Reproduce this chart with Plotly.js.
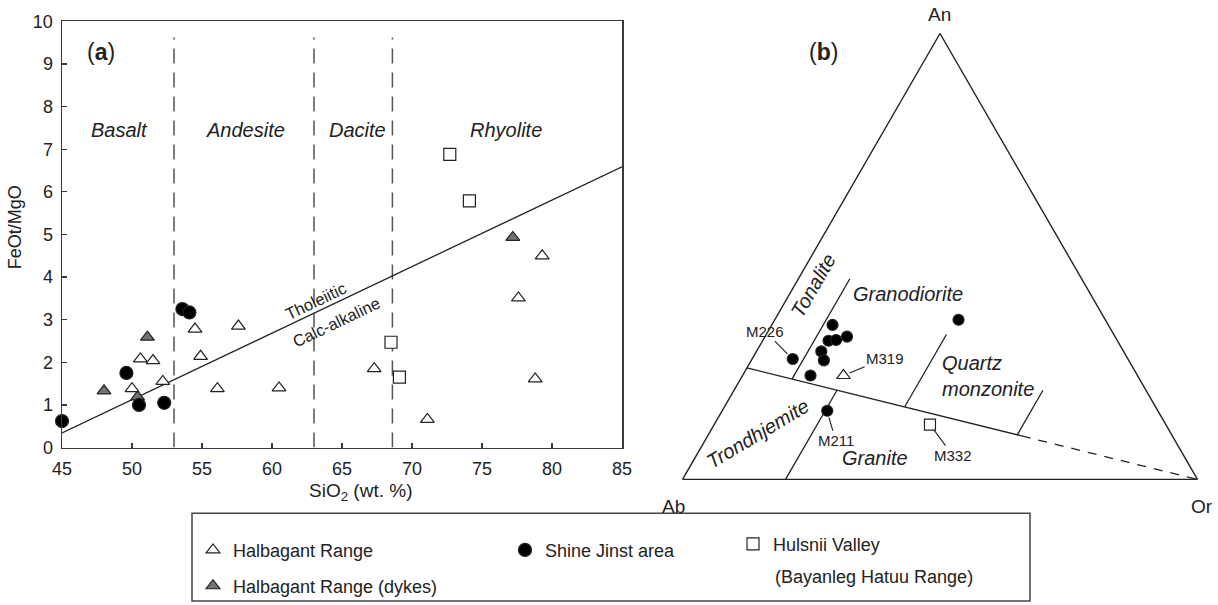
<!DOCTYPE html>
<html><head><meta charset="utf-8">
<script src="https://cdn.plot.ly/plotly-3.0.1.min.js"></script>
<style>html,body{margin:0;padding:0;background:#fff}#chart{width:1218px;height:605px}</style>
</head><body><div id="chart"></div>
<script>
// ---------- Panel (a): SiO2 vs FeOt/MgO ----------
const halbagantSiO2 = [50.0, 50.6, 51.5, 52.2, 54.5, 54.9, 56.1, 57.6, 60.5, 67.3, 71.1, 77.6, 79.3, 78.8];
const halbagantFeMg = [1.38, 2.08, 2.04, 1.55, 2.78, 2.14, 1.38, 2.85, 1.40, 1.85, 0.66, 3.51, 4.50, 1.61];
const dykesSiO2 = [48.0, 50.4, 51.1, 77.2];
const dykesFeMg = [1.33, 1.19, 2.59, 4.93];
const shineSiO2 = [45.0, 49.6, 50.5, 52.3, 53.6, 54.1];
const shineFeMg = [0.62, 1.75, 1.00, 1.05, 3.25, 3.17];
const hulsniiSiO2 = [72.7, 74.1, 68.5, 69.1];
const hulsniiFeMg = [6.88, 5.79, 2.47, 1.65];
const rockBoundsSiO2 = [53, 63, 68.6];
const boundTop = 9.62;
const tholSiO2 = [45, 85];
const tholFeMg = [0.34, 6.59];
const xTicks = [45, 50, 55, 60, 65, 70, 75, 80, 85];
const yTicks = [0, 1, 2, 3, 4, 5, 6, 7, 8, 9, 10];
const rockNames = ['Basalt', 'Andesite', 'Dacite', 'Rhyolite'];

// ---------- Panel (b): An-Ab-Or ternary ----------
const shineAn = [0.270, 0.346, 0.311, 0.313, 0.320, 0.287, 0.267, 0.233, 0.358, 0.154];
const shineAb = [0.651, 0.535, 0.561, 0.546, 0.520, 0.587, 0.592, 0.635, 0.285, 0.642];
const shineOr = [0.079, 0.118, 0.128, 0.142, 0.159, 0.126, 0.141, 0.132, 0.357, 0.204];
const shineIds = ['M226', '', '', '', '', '', '', '', '', 'M211'];
const halbagantAn = [0.233];
const halbagantAb = [0.571];
const halbagantOr = [0.196];
const halbagantIds = ['M319'];
const hulsniiAn = [0.123];
const hulsniiAb = [0.458];
const hulsniiOr = [0.419];
const hulsniiIds = ['M332'];
// field boundaries (An, Ab, Or)
const mainSolidAn = [0.25, 0.0975], mainSolidAb = [0.75, 0.2925], mainSolidOr = [0, 0.61];
const mainDashAn = [0.0975, 0], mainDashAb = [0.2925, 0], mainDashOr = [0.61, 1];
const tonAn = [0.225, 0.45], tonAb = [0.675, 0.45], tonOr = [0.10, 0.10];
const grdAn = [0.1625, 0.325], grdAb = [0.4875, 0.325], grdOr = [0.35, 0.35];
const qmAn = [0.10, 0.20], qmAb = [0.30, 0.20], qmOr = [0.60, 0.60];
const trdAn = [0, 0.20], trdAb = [0.80, 0.60], trdOr = [0.20, 0.20];

const seriesNames = ['Halbagant Range', 'Halbagant Range (dykes)', 'Shine Jinst area', 'Hulsnii Valley'];

// ---------- geometry helpers ----------
const W = 1218, H = 605;
const PX = p => p / W, PY = p => 1 - p / H;
const TRI = {left: 681.7, right: 1198.3, bottom: 481};
const SIDE = TRI.right - TRI.left, THEI = SIDE * Math.sqrt(3) / 2;
function tern2paper(a, b, c) {
  const s = a + b + c; a /= s; c /= s;
  const Y = a * THEI, X = c * SIDE + Y / Math.sqrt(3);
  return [(TRI.left + X) / W, 1 - (TRI.bottom - Y) / H];
}

const FONT = 'Liberation Sans, Arial, sans-serif';
const INK = '#222';
const mk = (sym, size, fill) => ({symbol: sym, size: size, color: fill, line: {color: INK, width: 1.2}});

const traces = [];
// boundaries panel a
rockBoundsSiO2.forEach(v => traces.push({
  x: [v, v], y: [0, boundTop], mode: 'lines', xaxis: 'x', yaxis: 'y',
  line: {color: '#555', width: 1.5, dash: '15px,9px'}, showlegend: false, hoverinfo: 'skip'
}));
traces.push({x: tholSiO2, y: tholFeMg, mode: 'lines', line: {color: INK, width: 1.3}, showlegend: false, hoverinfo: 'skip'});
// data panel a
traces.push({x: dykesSiO2, y: dykesFeMg, mode: 'markers', name: seriesNames[1], legend: 'legend2',
  marker: mk('triangle-up', 12, '#737373'), cliponaxis: false});
traces.push({x: halbagantSiO2, y: halbagantFeMg, mode: 'markers', name: seriesNames[0], legend: 'legend',
  marker: mk('triangle-up', 12, '#ffffff'), cliponaxis: false});
traces.push({x: shineSiO2, y: shineFeMg, mode: 'markers', name: seriesNames[2], legend: 'legend3',
  marker: mk('circle', 13, '#000000'), cliponaxis: false});
traces.push({x: hulsniiSiO2, y: hulsniiFeMg, mode: 'markers', name: seriesNames[3], legend: 'legend4',
  marker: mk('square', 12, '#ffffff'), cliponaxis: false});

// ternary boundaries
const tline = (a, b, c, dash) => ({type: 'scatterternary', a: a, b: b, c: c, mode: 'lines',
  line: {color: INK, width: 1.3, dash: dash || 'solid'}, showlegend: false, hoverinfo: 'skip'});
traces.push(tline(mainSolidAn, mainSolidAb, mainSolidOr));
traces.push(tline(mainDashAn, mainDashAb, mainDashOr, '9px,8px'));
traces.push(tline(tonAn, tonAb, tonOr));
traces.push(tline(grdAn, grdAb, grdOr));
traces.push(tline(qmAn, qmAb, qmOr));
traces.push(tline(trdAn, trdAb, trdOr));
// ternary data
traces.push({type: 'scatterternary', a: halbagantAn, b: halbagantAb, c: halbagantOr, mode: 'markers',
  marker: mk('triangle-up', 12, '#ffffff'), showlegend: false});
traces.push({type: 'scatterternary', a: shineAn, b: shineAb, c: shineOr, mode: 'markers',
  marker: mk('circle', 11, '#000000'), showlegend: false});
traces.push({type: 'scatterternary', a: hulsniiAn, b: hulsniiAb, c: hulsniiOr, mode: 'markers',
  marker: mk('square', 11, '#ffffff'), showlegend: false});

// ---------- annotations ----------
const ann = [];
const txt = (x, y, text, size, extra) => Object.assign({xref: 'paper', yref: 'paper', x: PX(x), y: PY(y),
  xanchor: 'center', yanchor: 'middle',
  text: text, showarrow: false, font: {family: FONT, size: size, color: INK}}, extra || {});
ann.push(txt(101, 52, '(<b>a</b>)', 23));
ann.push(txt(823, 52, '(<b>b</b>)', 23));
ann.push(txt(15, 228, 'FeOt/MgO', 18, {textangle: -90}));
ann.push(txt(360, 494, 'SiO<sub>2</sub> (wt. %)', 19));
// rock names (data coords)
const rockLabelX = [49.1, 58.1, 66.1, 76.7];
rockNames.forEach((n, i) => ann.push({xref: 'x', yref: 'y', x: rockLabelX[i], y: 7.46, text: '<i>' + n + '</i>',
  xanchor: 'center', yanchor: 'middle', showarrow: false, font: {family: FONT, size: 20, color: INK}}));
ann.push({xref: 'x', yref: 'y', x: 63.1, y: 3.45, text: 'Tholeiitic', textangle: -25.6, showarrow: false,
  xanchor: 'center', yanchor: 'middle', font: {family: FONT, size: 16.5, color: INK}});
ann.push({xref: 'x', yref: 'y', x: 64.6, y: 2.95, text: 'Calc-alkaline', textangle: -25.6, showarrow: false,
  xanchor: 'center', yanchor: 'middle', font: {family: FONT, size: 16.5, color: INK}});
// ternary vertex labels
ann.push(txt(940, 15, 'An', 19));
ann.push(txt(673, 508, 'Ab', 19));
ann.push(txt(1202, 508, 'Or', 19));
// field names
ann.push(txt(813, 287, '<i>Tonalite</i>', 20, {textangle: -60}));
ann.push(txt(908, 295, '<i>Granodiorite</i>', 20));
ann.push(txt(940, 377, '<i>Quartz</i><br><i>monzonite</i>', 20, {xanchor: 'left', align: 'left'}));
ann.push(txt(757, 435, '<i>Trondhjemite</i>', 20, {textangle: -31}));
ann.push(txt(875, 460, '<i>Granite</i>', 20));
// sample labels with leader lines
function sampleLabel(a, b, c, id, ax, ay) {
  const p = tern2paper(a, b, c);
  ann.push({xref: 'paper', yref: 'paper', x: p[0], y: p[1], text: id, showarrow: true, arrowhead: 0,
    arrowwidth: 1.1, arrowcolor: INK, ax: ax, ay: ay, standoff: 7, font: {family: FONT, size: 15, color: INK}});
}
sampleLabel(shineAn[0], shineAb[0], shineOr[0], shineIds[0], -27, -28);
sampleLabel(shineAn[9], shineAb[9], shineOr[9], shineIds[9], 9, 30);
sampleLabel(halbagantAn[0], halbagantAb[0], halbagantOr[0], halbagantIds[0], 42, -17);
sampleLabel(hulsniiAn[0], hulsniiAb[0], hulsniiOr[0], hulsniiIds[0], 23, 31);
// second line of Hulsnii legend entry
ann.push(txt(773, 579, '(Bayanleg Hatuu Range)', 18, {xanchor: 'left'}));

const legendBase = {xanchor: 'left', yanchor: 'middle', bgcolor: 'rgba(0,0,0,0)', borderwidth: 0,
  font: {family: FONT, size: 18, color: INK}};
const axisBase = {showline: true, mirror: true, linecolor: '#3a3a3a', linewidth: 1.5, ticks: 'inside',
  ticklen: 5, tickwidth: 1.2, tickcolor: '#3a3a3a', showgrid: false, zeroline: false, fixedrange: true,
  tickfont: {family: FONT, size: 18, color: INK}, ticklabelstandoff: 4};
const ternAxis = {showticklabels: false, ticks: '', showgrid: false, linecolor: INK, linewidth: 1.4,
  title: {text: ''}};

const layout = {
  width: W, height: H, margin: {l: 0, r: 0, t: 0, b: 0}, paper_bgcolor: '#fff', plot_bgcolor: '#fff',
  font: {family: FONT, color: INK},
  xaxis: Object.assign({}, axisBase, {domain: [PX(62), PX(622)], range: [45, 85], tickvals: xTicks,
    ticktext: xTicks.map(String)}),
  yaxis: Object.assign({}, axisBase, {domain: [PY(449), PY(21.5)], range: [0, 10], tickvals: yTicks,
    ticktext: yTicks.map(String)}),
  ternary: {sum: 1, bgcolor: '#fff',
    domain: {x: [PX(TRI.left), PX(TRI.right)], y: [PY(TRI.bottom), PY(TRI.bottom - THEI)]},
    aaxis: ternAxis, baxis: ternAxis, caxis: ternAxis},
  legend: Object.assign({}, legendBase, {x: PX(193), y: PY(552)}),
  legend2: Object.assign({}, legendBase, {x: PX(193), y: PY(588)}),
  legend3: Object.assign({}, legendBase, {x: PX(505), y: PY(552)}),
  legend4: Object.assign({}, legendBase, {x: PX(733), y: PY(546)}),
  shapes: [{type: 'rect', xref: 'paper', yref: 'paper', x0: PX(192), x1: PX(1030), y0: PY(603), y1: PY(515),
    line: {color: '#444', width: 1.5}}],
  annotations: ann,
  showlegend: true
};

Plotly.newPlot('chart', traces, layout, {displayModeBar: false, staticPlot: true});
</script>
</body></html>
